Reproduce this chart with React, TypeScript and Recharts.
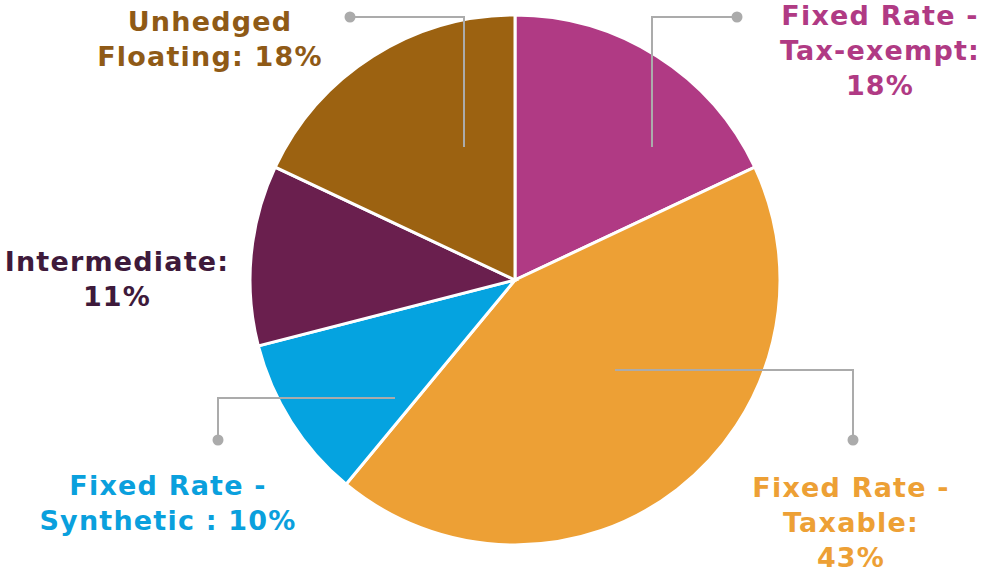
import { PieChart, Pie, Cell } from "recharts"

const categories = [
  "Fixed Rate - Tax-exempt",
  "Fixed Rate - Taxable",
  "Fixed Rate - Synthetic",
  "Intermediate",
  "Unhedged Floating",
]
const shares = [18, 43, 10, 11, 18]
// how each label is broken into lines; "%" marks where the share goes
const labelLines = [
  ["Fixed Rate -", "Tax-exempt:", "%"],
  ["Fixed Rate -", "Taxable:", "%"],
  ["Fixed Rate -", "Synthetic : %"],
  ["Intermediate:", "%"],
  ["Unhedged", "Floating: %"],
]

const sliceColors = ["#B03A84", "#EDA035", "#05A3E0", "#6A1F4E", "#9C6211"]
const textColors = ["#B03A84", "#EDA035", "#0AA0DD", "#3E1A3B", "#8F5A16"]

// label placement relative to the pie centre (dx, dy of first baseline)
// and leader-line path relative to the centre; null = no leader
const labelLayout: { x: number; y: number; path: number[][] | null }[] = [
  { x: 365, y: -255, path: [[137, -133], [137, -263], [222, -263]] },
  { x: 336, y: 217, path: [[100, 90], [338, 90], [338, 160]] },
  { x: -347, y: 215, path: [[-120, 118], [-297, 118], [-297, 160]] },
  { x: -398, y: -9, path: null },
  { x: -305, y: -249, path: [[-51, -133], [-51, -263], [-165, -263]] },
]

const data = categories.map((name, i) => ({ name, value: shares[i] }))

const renderLabel = (props: any) => {
  const { cx, cy, index, value } = props
  const lay = labelLayout[index]
  const lines = labelLines[index].map((l) => l.replace("%", `${value}%`))
  const pts = lay.path ? lay.path.map(([dx, dy]) => [cx + dx, cy + dy]) : null
  const end = pts ? pts[pts.length - 1] : null
  return (
    <g key={`lbl-${index}`}>
      {pts && (
        <>
          <polyline
            points={pts.map((p) => p.join(",")).join(" ")}
            fill="none"
            stroke="#ABABAB"
            strokeWidth={2}
          />
          <circle cx={end![0]} cy={end![1]} r={5.5} fill="#ABABAB" />
        </>
      )}
      <text
        x={cx + lay.x}
        y={cy + lay.y}
        textAnchor="middle"
        fill={textColors[index]}
        fontFamily="DejaVu Sans, sans-serif"
        fontWeight="bold"
        fontSize={27}
        letterSpacing={1.2}
      >
        {lines.map((l, j) => (
          <tspan key={j} x={cx + lay.x} dy={j === 0 ? 0 : 35}>
            {l}
          </tspan>
        ))}
      </text>
    </g>
  )
}

export default function App() {
  return (
    <div style={{ position: "absolute", left: 0, top: 0, width: 986, height: 572, background: "#fff" }}>
      <PieChart width={986} height={572} margin={{ top: 0, right: 0, bottom: 0, left: 0 }}>
        <Pie
          data={data}
          dataKey="value"
          nameKey="name"
          cx={515}
          cy={280}
          outerRadius={265}
          startAngle={90}
          endAngle={-270}
          stroke="#FFFFFF"
          strokeWidth={3}
          label={renderLabel}
          labelLine={false}
          isAnimationActive={false}
        >
          {data.map((d, i) => (
            <Cell key={d.name} fill={sliceColors[i]} />
          ))}
        </Pie>
      </PieChart>
    </div>
  )
}
